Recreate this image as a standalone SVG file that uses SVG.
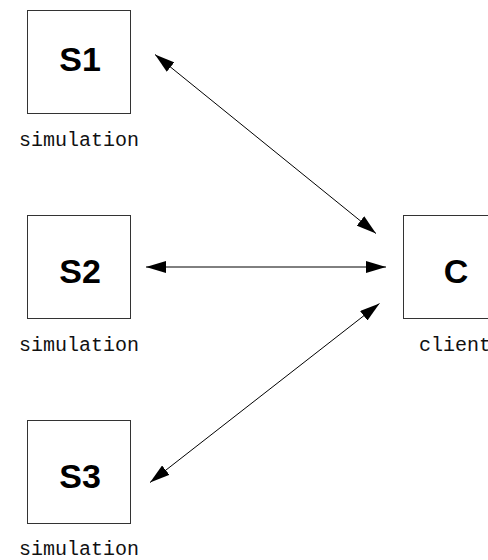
<svg xmlns="http://www.w3.org/2000/svg" width="488" height="560" viewBox="0 0 488 560">
  <style>
    .box { fill: #fff; stroke: #333; stroke-width: 1; }
    .name { font-family: "Liberation Sans", Arial, sans-serif; font-weight: bold; font-size: 34px; fill: #000; text-anchor: middle; }
    .role { font-family: "Liberation Mono", "Courier New", monospace; font-size: 20px; fill: #111; text-anchor: middle; }
    .link { stroke: #000; stroke-width: 1; fill: none; marker-start: url(#head); marker-end: url(#head); }
  </style>
  <defs>
    <marker id="head" viewBox="0 0 20 12" refX="20" refY="6" markerWidth="20" markerHeight="12" markerUnits="userSpaceOnUse" orient="auto-start-reverse">
      <path d="M0,0 L20,6 L0,12 Z" fill="#000"/>
    </marker>
  </defs>
  <rect width="488" height="560" fill="#fff"/>

  <g id="S1">
    <rect class="box" x="27.5" y="10.5" width="103" height="103"/>
    <text class="name" x="80" y="71">S1</text>
    <text class="role" x="79" y="146">simulation</text>
  </g>

  <g id="S2">
    <rect class="box" x="27.5" y="215.5" width="103" height="103"/>
    <text class="name" x="80" y="283">S2</text>
    <text class="role" x="79" y="351">simulation</text>
  </g>

  <g id="S3">
    <rect class="box" x="27.5" y="420.5" width="103" height="103"/>
    <text class="name" x="80" y="488">S3</text>
    <text class="role" x="79" y="555">simulation</text>
  </g>

  <g id="C">
    <rect class="box" x="403.5" y="215.5" width="103" height="103"/>
    <text class="name" x="456" y="283">C</text>
    <text class="role" x="455" y="351">client</text>
  </g>

  <g id="connectors">
    <line class="link" x1="155" y1="54.5" x2="376" y2="233.5"/>
    <line class="link" x1="146" y1="267" x2="386" y2="267"/>
    <line class="link" x1="150" y1="482.5" x2="379.5" y2="303.5"/>
  </g>
</svg>
